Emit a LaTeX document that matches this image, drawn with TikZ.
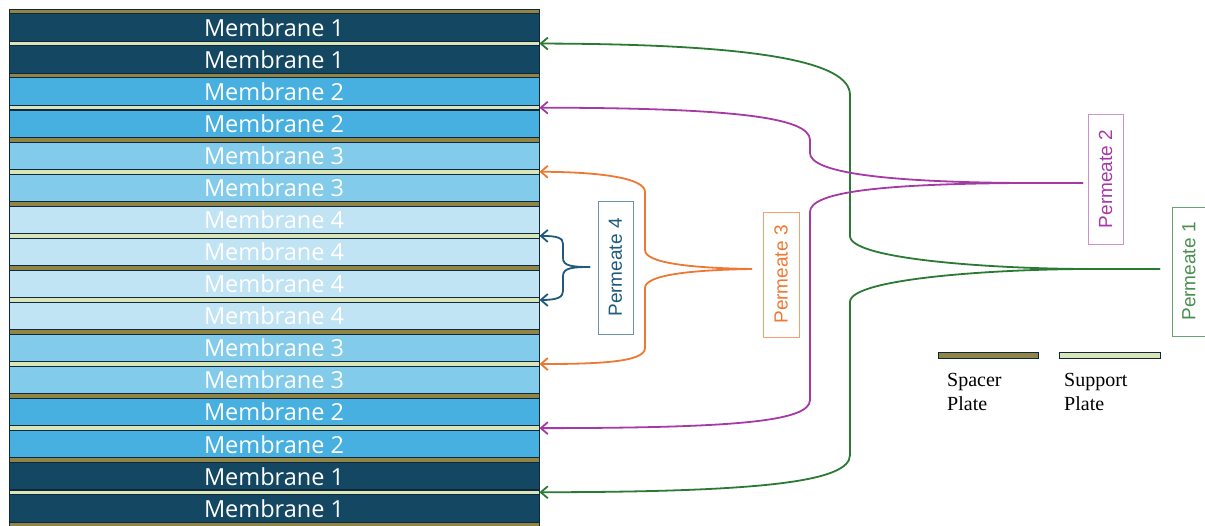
\documentclass[tikz,border=0pt]{standalone}
\usepackage{fontspec}
\setmainfont{Liberation Serif}
\newfontfamily\memfont{Open Sans}
\newfontfamily\tagfont{Liberation Sans}
\usetikzlibrary{arrows.meta}

\definecolor{edge}{HTML}{0E2841}
\definecolor{memA}{HTML}{144862}
\definecolor{memB}{HTML}{47B0E1}
\definecolor{memC}{HTML}{83CBEB}
\definecolor{memD}{HTML}{C1E4F5}
\definecolor{olive}{HTML}{918546}
\definecolor{pale}{HTML}{DAE5B8}
\definecolor{pgreen}{HTML}{2A7A34}
\definecolor{pmagenta}{HTML}{A53AA6}
\definecolor{porange}{HTML}{EE7832}
\definecolor{pteal}{HTML}{1F5A7D}

\begin{document}
\begin{tikzpicture}[x=1pt,y=-1pt]
        \tikzset{
        mem/.style={rectangle, minimum width=530pt, minimum height=27.45pt, inner sep=0pt,
        draw=edge, line width=0.9pt, text=white, font=\memfont\fontsize{23.5}{23.5}\selectfont},
        mem1/.style={mem, fill=memA},
        mem2/.style={mem, fill=memB},
        mem3/.style={mem, fill=memC},
        mem4/.style={mem, fill=memD},
        plate/.style={rectangle, minimum width=530pt, minimum height=4.6pt, inner sep=0pt,
        draw=edge, line width=0.9pt},
        spacer/.style={plate, fill=olive},
        support/.style={plate, fill=pale},
        pm/.style={line width=1.8pt, -{Straight Barb[length=7pt,width=12pt]}},
        pm1/.style={pm, pgreen},
        pm2/.style={pm, pmagenta},
        pm3/.style={pm, porange},
        pm4/.style={pm, pteal},
        tag/.style={rectangle, rotate=90, inner sep=0pt, line width=0.8pt,
        font=\tagfont\fontsize{19}{19}\selectfont},
        key/.style={align=left, inner sep=0pt, font=\fontsize{20}{24}\selectfont}
        }
        \useasboundingbox (0,0) rectangle (1205,526);

        % the stack
        \node[mem1] (m1) at (274,27.5) {Membrane 1};
        \node[mem1] (m2) at (274,59.6) {Membrane 1};
        \node[mem2] (m3) at (274,91.6) {Membrane 2};
        \node[mem2] (m4) at (274,123.7) {Membrane 2};
        \node[mem3] (m5) at (274,155.7) {Membrane 3};
        \node[mem3] (m6) at (274,187.8) {Membrane 3};
        \node[mem4] (m7) at (274,219.8) {Membrane 4};
        \node[mem4] (m8) at (274,251.9) {Membrane 4};
        \node[mem4] (m9) at (274,283.9) {Membrane 4};
        \node[mem4] (m10) at (274,316) {Membrane 4};
        \node[mem3] (m11) at (274,348) {Membrane 3};
        \node[mem3] (m12) at (274,380.1) {Membrane 3};
        \node[mem2] (m13) at (274,412.1) {Membrane 2};
        \node[mem2] (m14) at (274,444.2) {Membrane 2};
        \node[mem1] (m15) at (274,476.2) {Membrane 1};
        \node[mem1] (m16) at (274,508.3) {Membrane 1};

        \node[spacer] (pl0) at (274,11.5) {};
        \node[support] (pl1) at (274,43.55) {};
        \node[spacer] (pl2) at (274,75.6) {};
        \node[support] (pl3) at (274,107.65) {};
        \node[spacer] (pl4) at (274,139.7) {};
        \node[support] (pl5) at (274,171.75) {};
        \node[spacer] (pl6) at (274,203.8) {};
        \node[support] (pl7) at (274,235.85) {};
        \node[spacer] (pl8) at (274,267.9) {};
        \node[support] (pl9) at (274,299.95) {};
        \node[spacer] (pl10) at (274,332) {};
        \node[support] (pl11) at (274,364.05) {};
        \node[spacer] (pl12) at (274,396.1) {};
        \node[support] (pl13) at (274,428.15) {};
        \node[spacer] (pl14) at (274,460.2) {};
        \node[support] (pl15) at (274,492.25) {};
        \node[spacer] (pl16) at (274,524.3) {};

        % permeate labels
        \node[tag, draw=pgreen!70, text=pgreen!85, minimum width=129pt, minimum height=34pt] (tag1) at (1189,271.5) {Permeate 1};
        \node[tag, draw=pmagenta!55, text=pmagenta, minimum width=130pt, minimum height=35pt] (tag2) at (1105.5,179) {Permeate 2};
        \node[tag, draw=porange!70, text=porange, minimum width=125pt, minimum height=36pt] (tag3) at (781,274.5) {Permeate 3};
        \node[tag, draw=pteal!65, text=pteal, minimum width=133pt, minimum height=35pt] (tag4) at (615.5,267.5) {Permeate 4};

        \coordinate (t1) at (1160,269);
        \coordinate (t2) at (1083,183);
        \coordinate (t3) at (752,269);
        \coordinate (t4) at (590,267);

        % collection lines
        \draw[pm1] (t1) -- (1090,269) .. controls (1000,269) and (850,260) .. (850,236)
        -- (850,95) .. controls (850,62) and (760,44) .. (pl1.east);
        \draw[pm1] (t1) -- (1090,269) .. controls (1000,269) and (850,278) .. (850,302)
        -- (850,455) .. controls (850,482) and (760,492) .. (pl15.east);
        \draw[pm2] (t2) -- (1020,183) .. controls (880,182) and (810,172) .. (810,153)
        -- (810,140) .. controls (810,117) and (730,108) .. (pl3.east);
        \draw[pm2] (t2) -- (1020,183) .. controls (880,184) and (810,192) .. (810,212)
        -- (810,400) .. controls (810,422) and (730,428) .. (pl13.east);
        \draw[pm3] (t3) .. controls (690,268) and (645,263) .. (645,250)
        -- (645,192) .. controls (645,178) and (600,172) .. (pl5.east);
        \draw[pm3] (t3) .. controls (690,270) and (645,275) .. (645,288)
        -- (645,348) .. controls (645,362) and (600,364) .. (pl11.east);
        \draw[pm4] (t4) .. controls (572,267) and (563,266) .. (563,258)
        -- (563,244) .. controls (563,238) and (558,236) .. (pl7.east);
        \draw[pm4] (t4) .. controls (572,267) and (563,268) .. (563,276)
        -- (563,291) .. controls (563,297) and (558,300) .. (pl9.east);

        % key
        \node[spacer, minimum width=100pt, minimum height=5.5pt] (keyspc) at (988,355.5) {};
        \node[support, minimum width=101pt, minimum height=5.5pt] (keysup) at (1110,355.5) {};
        \node[key, anchor=north west] (keyspctxt) at (947,373) {Spacer\\Plate};
        \node[key, anchor=north west] (keysuptxt) at (1064,373) {Support\\Plate};
\end{tikzpicture}
\end{document}
